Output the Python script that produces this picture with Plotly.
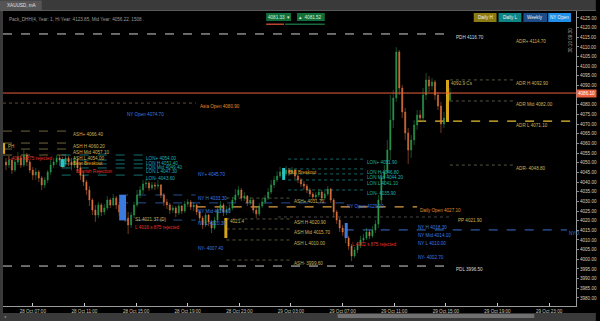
import plotly.graph_objects as go

# ---------------- data ----------------
open_first = 4050.4
close = [4048.8, 4051.4, 4046.2, 4050.4, 4052.5, 4048.8, 4054.0, 4050.4, 4046.2, 4043.6,
         4045.2, 4042.1, 4038.5, 4041.1, 4045.2, 4048.8, 4050.4, 4052.5, 4051.4, 4049.4,
         4052.5, 4050.4, 4048.8, 4051.4, 4047.3, 4043.6, 4040.0, 4035.9, 4030.7, 4025.5,
         4022.9, 4028.1, 4024.5, 4026.6, 4030.7, 4028.1, 4031.7, 4028.1, 4024.5, 4026.6,
         4021.4, 4017.8, 4022.9, 4028.1, 4033.3, 4035.9, 4039.0, 4039.5, 4036.9, 4038.5,
         4037.9, 4038.5, 4033.3, 4029.7, 4028.1, 4025.5, 4026.6, 4024.0, 4027.6, 4025.0,
         4028.6, 4029.7, 4027.1, 4028.1, 4024.5, 4021.4, 4017.8, 4022.9, 4019.3, 4016.2,
         4020.3, 4025.5, 4028.1, 4024.5, 4025.5, 4026.6, 4030.7, 4033.3, 4035.9, 4031.7,
         4032.8, 4029.2, 4030.7, 4025.5, 4023.5, 4027.6, 4029.7, 4031.7, 4034.8, 4038.5,
         4041.1, 4043.1, 4045.2, 4044.2, 4046.2, 4044.7, 4046.2, 4043.1, 4041.1, 4039.0,
         4037.9, 4035.9, 4033.8, 4032.3, 4033.3, 4034.8, 4031.7, 4033.8, 4036.4, 4030.7,
         4024.5, 4020.3, 4016.2, 4014.1, 4011.0, 4006.9, 4001.7, 4004.8, 4007.4, 4010.0,
         4011.0, 4014.1, 4012.1, 4015.2, 4018.3, 4030.7, 4042.1, 4045.2, 4056.6, 4072.1,
         4083.5, 4107.4, 4088.7, 4076.3, 4065.4, 4056.6, 4061.8, 4069.6, 4074.7, 4073.2,
         4085.1, 4092.9, 4089.8, 4091.8, 4085.1, 4079.4, 4070.1, 4073.2, 4082.5, 4086.1]
high = [4052.5, 4053.5, 4052.5, 4051.4, 4055.6, 4054.0, 4056.6, 4055.0, 4051.4, 4047.8,
        4047.3, 4046.2, 4043.1, 4042.6, 4046.2, 4051.4, 4052.5, 4054.0, 4054.0, 4053.0,
        4054.0, 4053.5, 4052.5, 4053.0, 4052.5, 4048.8, 4045.2, 4041.1, 4037.9, 4031.7,
        4028.1, 4029.7, 4029.2, 4028.6, 4032.8, 4031.7, 4033.8, 4032.8, 4029.7, 4028.1,
        4027.6, 4024.5, 4024.5, 4029.7, 4035.9, 4037.9, 4041.1, 4041.6, 4040.5, 4040.0,
        4040.0, 4041.1, 4039.0, 4034.3, 4031.2, 4029.2, 4028.1, 4027.6, 4028.6, 4028.1,
        4030.2, 4031.2, 4030.7, 4029.7, 4028.6, 4025.5, 4022.4, 4024.0, 4023.5, 4020.3,
        4021.9, 4027.1, 4030.2, 4029.2, 4027.6, 4028.6, 4032.3, 4036.4, 4037.9, 4036.9,
        4034.8, 4033.3, 4032.3, 4031.2, 4027.1, 4029.2, 4031.7, 4033.3, 4036.9, 4041.1,
        4043.1, 4045.7, 4047.8, 4047.3, 4048.3, 4047.3, 4047.8, 4046.8, 4044.2, 4042.1,
        4040.5, 4039.0, 4036.9, 4034.8, 4034.8, 4036.4, 4035.9, 4035.4, 4037.9, 4036.9,
        4031.7, 4025.5, 4021.4, 4017.8, 4015.7, 4012.1, 4007.9, 4006.4, 4008.9, 4012.1,
        4013.1, 4016.2, 4015.2, 4017.2, 4020.3, 4033.3, 4045.2, 4048.8, 4061.8, 4085.1,
        4087.7, 4109.9, 4108.4, 4090.3, 4078.4, 4068.0, 4064.4, 4072.1, 4077.3, 4077.3,
        4088.7, 4096.5, 4094.9, 4093.9, 4092.9, 4086.6, 4081.5, 4076.3, 4084.6, 4088.7]
low = [4046.2, 4047.3, 4044.2, 4045.2, 4048.8, 4047.3, 4047.8, 4048.3, 4044.7, 4041.1,
       4041.1, 4040.0, 4035.9, 4036.9, 4039.5, 4043.6, 4047.3, 4048.8, 4048.3, 4047.3,
       4048.3, 4048.3, 4046.2, 4047.3, 4045.2, 4041.1, 4037.9, 4033.3, 4027.6, 4022.9,
       4019.3, 4021.4, 4022.4, 4022.9, 4025.5, 4026.6, 4027.6, 4026.0, 4022.4, 4022.9,
       4019.3, 4013.1, 4016.2, 4021.4, 4027.1, 4031.7, 4033.8, 4036.9, 4035.4, 4035.9,
       4035.9, 4036.4, 4031.7, 4027.6, 4026.0, 4023.5, 4024.0, 4021.9, 4022.9, 4023.5,
       4024.0, 4027.1, 4025.5, 4025.0, 4022.9, 4019.3, 4015.7, 4016.7, 4017.2, 4013.6,
       4015.2, 4019.3, 4024.0, 4022.4, 4022.9, 4024.0, 4025.5, 4029.7, 4032.3, 4030.2,
       4030.2, 4027.6, 4028.1, 4024.0, 4021.4, 4022.4, 4026.6, 4028.6, 4030.7, 4033.8,
       4036.9, 4040.0, 4042.1, 4042.6, 4043.1, 4043.1, 4043.6, 4041.6, 4039.5, 4037.4,
       4035.9, 4034.3, 4032.3, 4030.7, 4030.7, 4032.3, 4030.2, 4030.7, 4032.8, 4029.2,
       4021.9, 4018.3, 4014.1, 4012.1, 4008.4, 4004.8, 3999.1, 4000.7, 4003.2, 4005.8,
       4008.4, 4010.0, 4010.5, 4011.0, 4013.6, 4016.2, 4028.6, 4038.5, 4043.1, 4051.4,
       4068.0, 4081.5, 4085.1, 4073.2, 4061.8, 4049.4, 4052.5, 4059.2, 4067.0, 4071.1,
       4071.1, 4082.5, 4086.6, 4087.7, 4082.5, 4077.3, 4065.4, 4068.0, 4071.1, 4081.5]
bar_index = list(range(len(close)))
open_ = [open_first] + close[:-1]

price_ticks = list(range(3980, 4126, 5))
time_labels = ["28 Oct 07:00", "28 Oct 11:00", "28 Oct 15:00", "28 Oct 19:00",
               "28 Oct 23:00", "29 Oct 03:00", "29 Oct 07:00", "29 Oct 11:00",
               "29 Oct 15:00", "29 Oct 19:00", "29 Oct 23:00"]
current_price = 4086.1

# session levels: (name, price)
pd_levels = [("PDH", 4116.7), ("PDL", 3996.5)]
adr_levels = [("ADR+", 4114.7), ("ADR H", 4092.9), ("ADR Mid", 4082.0), ("ADR L", 4071.1), ("ADR-", 4048.8)]
asia1_levels = [("ASH+", 4066.4), ("ASH H", 4060.2), ("ASH Mid", 4057.1), ("ASH L", 4054.0)]
lon1_levels = [("LON+", 4054.0), ("LON H", 4051.4), ("LON Mid", 4049.4), ("LON L", 4047.3), ("LON-", 4043.6)]
ny1_levels = [("NY+", 4045.7), ("NY H", 4033.3), ("NY Mid", 4026.6), ("NY L", 4020.3), ("NY-", 4007.4)]
asia2_levels = [("ASH+", 4031.7), ("ASH H", 4020.9), ("ASH Mid", 4015.7), ("ASH L", 4010.0), ("ASH-", 3999.6)]
lon2_levels = [("LON+", 4051.9), ("LON H", 4046.8), ("LON Mid", 4044.2), ("LON L", 4041.1), ("LON-", 4035.9)]
ny2_levels = [("NY H", 4018.3), ("NY Mid", 4014.1), ("NY L", 4010.0), ("NY-", 4002.7)]
# (name, price, start bar, end bar)
open_levels = [("Asia Open", 4080.9, -1, 63.7), ("NY Open", 4029.2, 38, 113.7),
               ("Daily Open", 4027.1, 64, 138), ("PP", 4021.9, 91.3, 149.7)]
# marker boxes: (start bar, end bar, top, bottom, kind, label)
boxes = [(-1, -0.3, 4060.2, 4054.6, "gold", "PH"),
         (73.3, 74.3, 4021.4, 4011.0, "gold", "4021.4"),
         (147.7, 148.7, 4092.9, 4071.1, "gold", "4092.9 Cs"),
         (18.3, 19.7, 4051.9, 4047.8, "cyan", ""),
         (92.7, 93.7, 4047.3, 4041.1, "cyan", ""),
         (38, 40.3, 4033.3, 4020.3, "blue", ""),
         (113.7, 114.7, 4018.8, 4011.0, "blue", "")]
# signal texts: (text, bar, price, kind)
signals = [("L 4051 s 875 rejected", 0.3, 4052.0, "red"),
           ("Bear Breakout", 22, 4049.6, "amber"),
           ("Bearish Rejection", 23, 4045.4, "red"),
           ("S1 4021.37 (D)", 43, 4020.8, "khaki"),
           ("L 4016 s 875 rejected", 43, 4016.5, "red"),
           ("Bull Breakout", 94.7, 4045.0, "amber"),
           ("L 4002 s 875 rejected", 115.7, 4007.6, "red"),
           ("NY Open 4074.70", 40.3, 4075.2, "blue")]

# ---------------- layout geometry ----------------
W, H = 600, 321
L, R, T, B = 3, 580, 11, 306
FONT = "Liberation Sans, Arial, sans-serif"
FS = 4.6


def px_x(px):
    return (px - L) / (R - L)


def px_y(py):
    return (B - py) / (B - T)


colors = {"red": "#e8322a", "amber": "#e8a21c", "khaki": "#c9b25a", "blue": "#3b7be0",
          "teal": "#1fb0b0", "white": "#d8d8d8", "orange": "#e0892e",
          "gold": "#d4a419", "cyan": "#27c4c8", "boxblue": "#2a86e8"}

fig = go.Figure()
fig.add_trace(go.Candlestick(
    x=bar_index, open=open_, high=high, low=low, close=close,
    increasing=dict(line=dict(color="#2b9c4e", width=0.5), fillcolor="#2b9c4e"),
    decreasing=dict(line=dict(color="#e0743f", width=0.5), fillcolor="#e0743f"),
    whiskerwidth=0, showlegend=False, hoverinfo="skip"))

shapes = []
annots = []


def hline(p, x0, x1, color, dash="dot", width=0.8):
    shapes.append(dict(type="line", xref="x", yref="y", x0=x0, x1=x1, y0=p, y1=p,
                       line=dict(color=color, width=width, dash=dash), layer="below"))


def label(text, x, p, color, anchor="top"):
    annots.append(dict(xref="x", yref="y", x=x, y=p, text=text, showarrow=False,
                       xanchor="left", yanchor=anchor, font=dict(size=FS, color=color, family=FONT),
                       borderpad=0))


# previous day high / low
for name, p in pd_levels:
    hline(p, -1, 149.7, "#d0d0d0", dash="dash", width=1)
    label(f"{name} {p:.2f}", 150.7, p, "#d8d8d8")

# ADR levels (right block)
for name, p in adr_levels:
    if name in ("ADR H", "ADR Mid", "ADR-"):
        hline(p, 149, 170.3, "#6d6a55", dash="dot")
    label(f"{name} {p:.2f}", 170.7, p, colors["khaki"])

for name, p in asia1_levels:
    hline(p, -1, 21.3, "#8a7d45", dash="dash")
    label(f"{name} {p:.2f}", 22, p, colors["khaki"])
for name, p in lon1_levels:
    hline(p, 18.7, 46.3, "#1a8c8c", dash="dash")
    label(f"{name} {p:.2f}", 46.6, p, colors["teal"])
for name, p in ny1_levels:
    if name in ("NY H", "NY L"):
        hline(p, 38, 63.7, "#2f5fa8", dash="dash")
    label(f"{name} {p:.2f}", 64, p, colors["blue"])
for name, p in asia2_levels:
    hline(p, 74, 95.7, "#6f6848", dash="dot")
    label(f"{name} {p:.2f}", 96.3, p, colors["khaki"])
for name, p in lon2_levels:
    hline(p, 94.7, 120.3, "#1a7f80", dash="dot")
    label(f"{name} {p:.2f}", 120.7, p, colors["teal"])
for name, p in ny2_levels:
    label(f"{name} {p:.2f}", 138, p, colors["blue"])

for name, p, x0, x1 in open_levels:
    if name == "Asia Open":
        hline(p, x0, x1, "#7a6040", dash="dot")
        label(f"{name} {p:.2f}", x1 + 1, p, colors["orange"])
    elif name == "NY Open":
        hline(p, x0, x1, "#3366b8", dash="dash")
        label(f"{name} {p:.2f}", x1 + 0.3, p, colors["blue"])
    elif name == "Daily Open":
        hline(p, x0, x1, "#e0a040", dash="dash", width=1.2)
        label(f"{name} {p:.2f}", x1 + 0.7, p, colors["orange"])
    else:
        hline(p, x0, x1, "#555555", dash="dot")
        label(f"{name} {p:.2f}", x1 + 1.6, p, colors["khaki"])

# current day open (yellow dashed) and NY open of today (blue dashed)
hline(4071.6, 138, 191.4, "#e8c030", dash="dash", width=1.2)
hline(4015.2, 113.7, 188.3, "#3a70d0", dash="dash", width=1)
label("NYO", 188.5, 4015.2, colors["blue"])

for x0, x1, top, bot, kind, txt in boxes:
    shapes.append(dict(type="rect", xref="x", yref="y", x0=x0, x1=x1, y0=bot, y1=top,
                       fillcolor=colors[kind], line=dict(width=0), layer="above"))
    if txt:
        label(txt, x1 + 0.5, top, colors["khaki"])

for txt, x, p, kind in signals:
    label(txt, x, p, colors[kind], anchor="middle")

# current price line + axis badge
shapes.append(dict(type="line", xref="paper", yref="y", x0=0, x1=1, y0=current_price,
                   y1=current_price, line=dict(color="#e8603c", width=1)))
annots.append(dict(xref="paper", yref="y", x=1.0, y=current_price, text=f"{current_price:.2f}",
                   showarrow=False, xanchor="left", yanchor="middle", bgcolor="#e8603c",
                   font=dict(size=FS, color="#ffffff", family=FONT), borderpad=1))

# ---------- window chrome (paper coords) ----------
def prect(x0, y0, x1, y1, color, layer="above"):
    shapes.append(dict(type="rect", xref="paper", yref="paper", x0=px_x(x0), x1=px_x(x1),
                       y0=px_y(y1), y1=px_y(y0), fillcolor=color, line=dict(width=0), layer=layer))


def ptext(text, x, y, color, size=FS, xanchor="left", angle=0):
    annots.append(dict(xref="paper", yref="paper", x=px_x(x), y=px_y(y), text=text, showarrow=False,
                       xanchor=xanchor, yanchor="middle", textangle=angle,
                       font=dict(size=size, color=color, family=FONT)))


prect(0, 0, 600, 10, "#3a3a3a")
prect(0, 10, 600, 11, "#5a5a5a")
prect(0, 0.5, 42, 10, "#555555")
ptext("XAUUSD, mA", 5, 5.5, "#e0e0e0", size=4.6)
prect(0, 11, 3, 321, "#3a3a3a")
prect(0, 313, 600, 321, "#3a3a3a")
prect(340, 314, 538, 318, "#707070")
ptext("◂", 2, 316, "#999999", size=4)

ptext("Pack_DHH(4, Year: 1, Hi Year: 4123.85, Mid Year: 4056.22, 1508 .", 7, 19, "#9a9a9a")

# top centre price boxes
prect(268, 13, 293, 21, "#136f3a")
prect(299, 13, 327, 21, "#136f3a")
prect(268, 23.5, 286, 25, "#b8452e")
prect(287, 23.5, 327, 25, "#17683a")
ptext("4081.33  ▾", 280.5, 17, "#d8f0dc", xanchor="center")
ptext("▴  4081.52", 313, 17, "#d8f0dc", xanchor="center")

# top right buttons
for x0, x1, col, txt in [(477, 500, "#8c7a12", "Daily H"), (502, 525, "#0e8585", "Daily L"),
                         (527, 551, "#1d4d88", "Weekly"), (552, 575, "#1f8fe8", "NY Open")]:
    prect(x0, 13, x1, 22, col)
    ptext(txt, (x0 + x1) / 2, 17.5, "#f0f0f0", xanchor="center")

ptext("30.10 09:30", 573.5, 40, "#bbbbbb", angle=-90, xanchor="center")

tick_pos = [9 + k * 17.33 for k in range(len(time_labels))]
# the price badge hides the tick label it sits on
shown_ticks = [t for t in price_ticks if abs(t - current_price) > 3]

fig.update_layout(
    width=W, height=H, margin=dict(l=L, r=W - R, t=T, b=H - B),
    paper_bgcolor="#000000", plot_bgcolor="#000000",
    shapes=shapes, annotations=annots, showlegend=False,
    boxgap=0.45,
    font=dict(family=FONT, size=FS, color="#d0c8b8"),
    xaxis=dict(range=[-1, 191.33], rangeslider=dict(visible=False), showgrid=False,
               zeroline=False, showline=True, linecolor="#9a9a9a", linewidth=1,
               tickvals=tick_pos, ticktext=time_labels, ticks="inside", ticklen=3,
               tickcolor="#cccccc", tickfont=dict(size=FS, color="#d0c8b8", family=FONT)),
    yaxis=dict(range=[3975.8, 4128.6], side="right", showgrid=False, zeroline=False,
               showline=True, linecolor="#9a9a9a", linewidth=1, tickvals=shown_ticks,
               tickformat=".2f", ticks="outside", ticklen=2, tickcolor="#888888",
               tickfont=dict(size=FS, color="#d8cdb8", family=FONT)),
)

fig.write_html("out.html")
